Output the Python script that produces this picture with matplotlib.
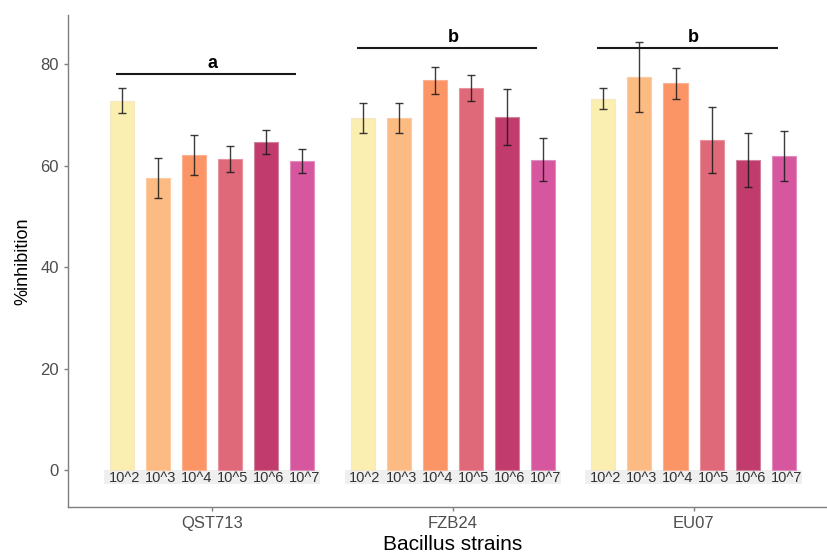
import matplotlib
matplotlib.use('Agg')
import matplotlib.pyplot as plt
from matplotlib.patches import Rectangle
import numpy as np

plt.rcParams['font.family'] = ['Liberation Sans', 'DejaVu Sans']

strains = ['QST713', 'FZB24', 'EU07']
doses = ['10^2', '10^3', '10^4', '10^5', '10^6', '10^7']

qst713 = [72.8, 57.6, 62.1, 61.3, 64.7, 60.9]
qst713_err = [2.5, 3.9, 4.0, 2.6, 2.4, 2.3]
fzb24 = [69.4, 69.4, 76.8, 75.3, 69.6, 61.2]
fzb24_err = [3.0, 3.0, 2.7, 2.5, 5.5, 4.2]
eu07 = [73.2, 77.4, 76.2, 65.1, 61.1, 61.9]
eu07_err = [2.1, 6.9, 3.1, 6.5, 5.4, 5.0]

letters = ['a', 'b', 'b']
bracket_y = [78.0, 83.1, 83.1]

colors = ['#FBEEB1', '#FDBB84', '#FC9566', '#DF6879', '#C13C6C', '#D7579F']
edges = ['#F5E8C4', '#FCCBA2', '#FBB294', '#E7929E', '#D0849C', '#E08EBE']

means = [qst713, fzb24, eu07]
errs = [qst713_err, fzb24_err, eu07_err]

fig = plt.figure(figsize=(8.27, 5.57), dpi=100)
# axes runs a little past the right edge (the source image is cropped)
ax = fig.add_axes([67.7 / 827, 50 / 557, (838 - 67.7) / 827, (507 - 15) / 557])

slot = 0.15
width = 0.1
for i, strain in enumerate(strains):
    c = i + 1
    xs = c + (np.arange(len(doses)) - 2.5) * slot
    ax.add_patch(Rectangle((c - 0.45, -2.8), 0.9, 2.8, facecolor='#EFEFEF',
                           edgecolor='none', zorder=1))
    ax.bar(xs, means[i], width=width, color=colors, edgecolor=edges,
           linewidth=0.8, zorder=2)
    ax.errorbar(xs, means[i], yerr=errs[i], fmt='none', ecolor='#1a1a1a',
                elinewidth=1.0, capsize=3, capthick=1.0, alpha=0.85, zorder=3)
    for x, d in zip(xs, doses):
        ax.text(x + 0.01, -1.5, d, ha='center', va='center', fontsize=10.5,
                color='#333333', zorder=4)
    ax.plot([c - 0.4, c + 0.35], [bracket_y[i], bracket_y[i]], color='#1a1a1a',
            linewidth=1.5, solid_capstyle='butt', zorder=3)
    ax.text(c, bracket_y[i] + 0.4, letters[i], ha='center', va='bottom',
            fontsize=13, fontweight='bold', color='black')

ax.set_xlim(0.4, 3.6)
ax.set_ylim(-7.3, 89.7)
ax.set_xticks([1, 2, 3])
ax.set_xticklabels(strains)
ax.set_yticks([0, 20, 40, 60, 80])

for s in ['top', 'right']:
    ax.spines[s].set_visible(False)
for s in ['left', 'bottom']:
    ax.spines[s].set_color('#7f7f7f')
    ax.spines[s].set_linewidth(1.0)
ax.tick_params(colors='#7f7f7f', labelcolor='#4d4d4d', labelsize=12,
               length=3, width=1.0)

ax.set_xlabel('Bacillus strains', fontsize=15, color='black', labelpad=3)
ax.set_ylabel('%inhibition', fontsize=13, color='black', labelpad=6)

fig.savefig('out.png', dpi=100)
